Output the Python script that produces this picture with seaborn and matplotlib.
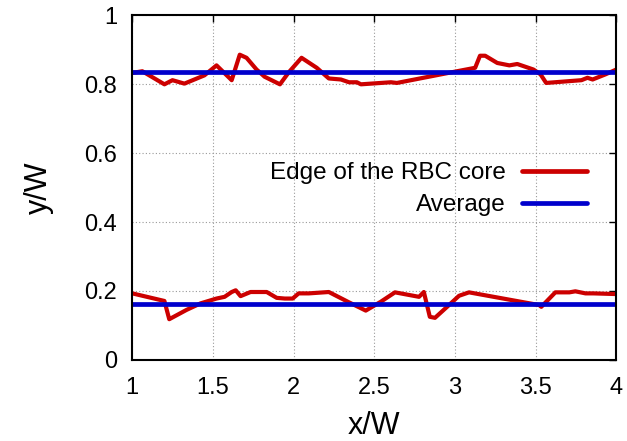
import numpy as np
import pandas as pd
import matplotlib
matplotlib.use("Agg")
import matplotlib.pyplot as plt
import seaborn as sns

# Upper edge of the RBC core
upper_x = [1.0, 1.062, 1.199, 1.249, 1.323, 1.447, 1.522, 1.616, 1.666, 1.708, 1.77, 1.82,
           1.915, 1.97, 2.049, 2.143, 2.218, 2.293, 2.343, 2.392, 2.417, 2.603, 2.64, 3.013,
           3.125, 3.155, 3.187, 3.262, 3.337, 3.386, 3.486, 3.53, 3.565, 3.784, 3.821, 3.853,
           3.933, 4.0]
upper_y = [0.833, 0.838, 0.80, 0.812, 0.802, 0.826, 0.855, 0.812, 0.886, 0.877, 0.843, 0.822,
           0.80, 0.835, 0.877, 0.848, 0.817, 0.814, 0.806, 0.806, 0.80, 0.806, 0.804, 0.838,
           0.848, 0.883, 0.883, 0.862, 0.855, 0.859, 0.843, 0.829, 0.804, 0.812, 0.819, 0.814,
           0.829, 0.843]

# Lower edge of the RBC core
lower_x = [1.0, 1.199, 1.229, 1.336, 1.423, 1.522, 1.572, 1.616, 1.641, 1.671, 1.733, 1.833,
           1.895, 1.945, 1.994, 2.031, 2.094, 2.218, 2.343, 2.447, 2.541, 2.628, 2.777, 2.807,
           2.844, 2.876, 2.951, 3.025, 3.087, 3.522, 3.535, 3.622, 3.709, 3.746, 3.809, 3.858,
           4.0]
lower_y = [0.193, 0.171, 0.118, 0.145, 0.164, 0.178, 0.183, 0.197, 0.202, 0.185, 0.197, 0.197,
           0.18, 0.178, 0.178, 0.193, 0.193, 0.197, 0.167, 0.143, 0.169, 0.196, 0.183, 0.197,
           0.125, 0.122, 0.154, 0.186, 0.196, 0.159, 0.154, 0.196, 0.196, 0.199, 0.193, 0.193,
           0.191]

avg_upper = 0.837
avg_lower = 0.161
avg_x = [1.0, 4.0]

x_ticks = [1, 1.5, 2, 2.5, 3, 3.5, 4]
x_tick_labels = ["1", "1.5", "2", "2.5", "3", "3.5", "4"]
y_ticks = [0, 0.2, 0.4, 0.6, 0.8, 1]
y_tick_labels = ["0", "0.2", "0.4", "0.6", "0.8", "1"]

sns.set_theme(style="white")
plt.rcParams['font.family'] = ['Liberation Sans', 'DejaVu Sans']
plt.rcParams['text.color'] = 'black'
plt.rcParams['axes.labelcolor'] = 'black'

fig = plt.figure(figsize=(6.27, 4.41), dpi=100)
ax = fig.add_axes([0.211, 0.184, 0.772, 0.781])

red = "#cc0000"
blue = "#0000cc"

sns.lineplot(x=upper_x, y=upper_y, ax=ax, color=red, lw=3, sort=False, estimator=None,
             label="Edge of the RBC core")
sns.lineplot(x=lower_x, y=lower_y, ax=ax, color=red, lw=3, sort=False, estimator=None)
sns.lineplot(x=avg_x, y=[avg_upper, avg_upper], ax=ax, color=blue, lw=3.4, estimator=None,
             label="Average")
sns.lineplot(x=avg_x, y=[avg_lower, avg_lower], ax=ax, color=blue, lw=3.4, estimator=None)

ax.set_xlim(1, 4)
ax.set_ylim(0, 1)
ax.set_xticks(x_ticks)
ax.set_xticklabels(x_tick_labels)
ax.set_yticks(y_ticks)
ax.set_yticklabels(y_tick_labels)
ax.tick_params(axis='both', which='both', direction='in', length=5, width=1,
               labelsize=17, top=True, right=True, colors='black')
ax.tick_params(axis='x', pad=12)
ax.tick_params(axis='y', pad=11)
ax.grid(True, color='#999999', linestyle=(0, (1, 2)), linewidth=0.8)
for s in ax.spines.values():
    s.set_color('black')
    s.set_linewidth(1.5)

ax.set_xlabel("x/W", fontsize=22, labelpad=9)
ax.set_ylabel("y/W", fontsize=22, labelpad=22)

leg = ax.legend(loc='center right', bbox_to_anchor=(0.985, 0.495), frameon=False,
                markerfirst=False, fontsize=17.5, handlelength=2.7, handletextpad=0.65,
                labelspacing=0.42)
for line in leg.get_lines():
    line.set_linewidth(3.4)

fig.savefig("out.png", dpi=100)
